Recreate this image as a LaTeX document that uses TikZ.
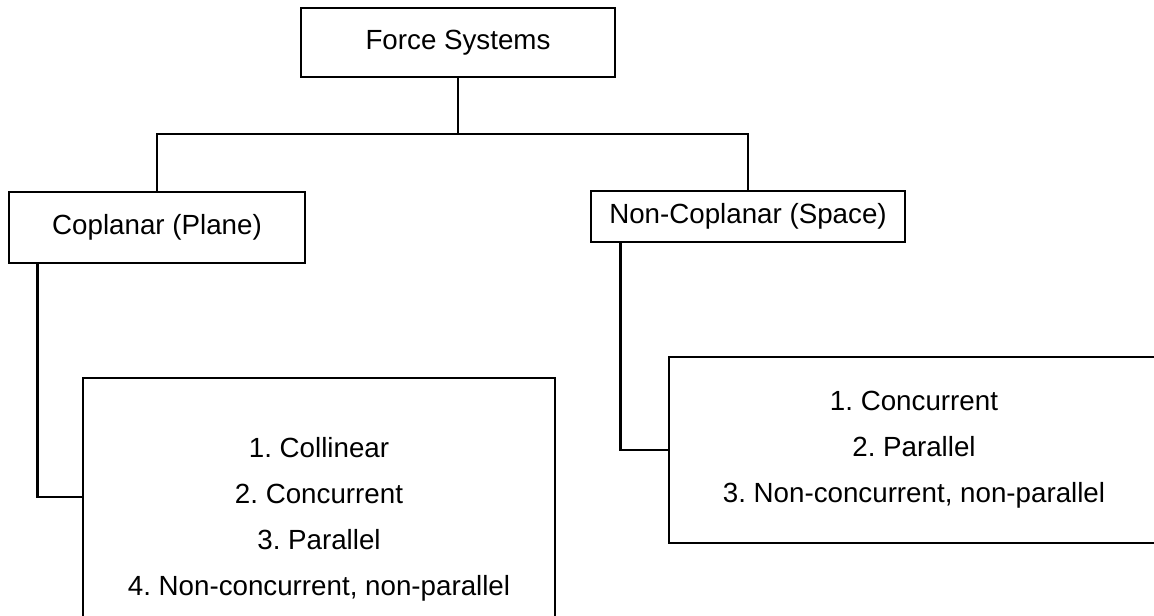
\documentclass[tikz,border=0pt]{standalone}
\usepackage{fontspec}
\setmainfont{Liberation Sans}
\usetikzlibrary{calc}

\begin{document}
\frenchspacing
\begin{tikzpicture}[x=0.75pt,y=-0.75pt,line width=2pt]
% Box style
\tikzset{
    sysbox/.style={draw,rectangle,align=center,inner sep=0pt,
        font=\fontsize{20.8pt}{34.5pt}\selectfont}
}
\useasboundingbox (0,0) rectangle (1154,616);
% Boxes

\node[sysbox,minimum width=235.5pt,minimum height=51.75pt] (fs) at (458,42.5){Force Systems};
\node[sysbox,minimum width=222pt,minimum height=53.25pt] (cop) at (157,227.5){Coplanar (Plane)};
\node[sysbox,minimum width=235.5pt,minimum height=38.25pt] (ncop) at (748,216.5){Non-Coplanar (Space)};
\node[sysbox,minimum width=354pt,minimum height=211.5pt] (clist) at (319,519){1. Collinear\\2. Concurrent\\3. Parallel\\4. Non-concurrent, non-parallel};
\node[sysbox,minimum width=367.5pt,minimum height=139.5pt] (nlist) at (914,450){1. Concurrent\\2. Parallel\\3. Non-concurrent, non-parallel};
% Connectors
\coordinate (split) at (458,134);
 \draw (fs.south) -- (split);
 \draw (cop.north) |- (split) -| (ncop.north);
\draw ($(cop.south west)+(30,0)$) |- (clist.west |- 0,497);
\draw ($(ncop.south west)+(31,0)$) |- (nlist.west);
\end{tikzpicture}
\end{document}
